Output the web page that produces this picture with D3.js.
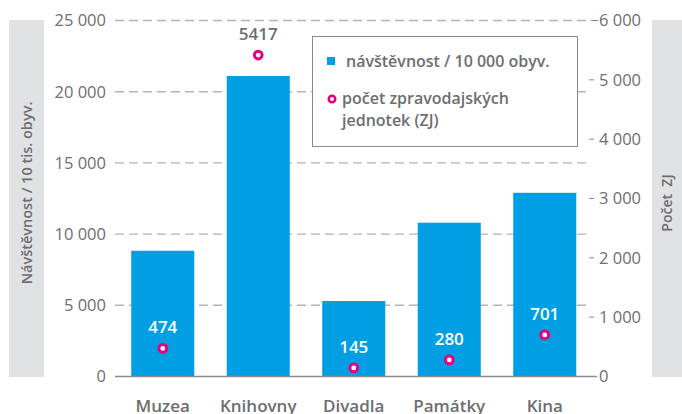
<!DOCTYPE html>
<html lang="cs">
<head>
<meta charset="utf-8">
<title>Návštěvnost a počet ZJ</title>
<script src="https://cdn.jsdelivr.net/npm/d3@7"></script>
<style>
  body { margin: 0; background: #fff; }
  text { font-family: "Open Sans", "Noto Sans", sans-serif; }
</style>
</head>
<body>
<script>
// data
var categories = ["Muzea", "Knihovny", "Divadla", "Památky", "Kina"];
var visits = [8830, 21100, 5300, 10800, 12900];   // návštěvnost / 10 000 obyv.
var units = [474, 5417, 145, 280, 701];            // počet ZJ
var leftTicks = [0, 5000, 10000, 15000, 20000, 25000];
var rightTicks = [0, 1000, 2000, 3000, 4000, 5000, 6000];

var W = 682, H = 414;
var textGray = "#6d6e70";
var barBlue = "#009fe3";
var pink = "#e6007e";

var svg = d3.select("body").append("svg").attr("width", W).attr("height", H);

var top0 = 20.5, base = 376.5;
var x = d3.scaleBand().domain(categories).range([115, 592.5]).paddingInner(0.34).paddingOuter(0.17);
var yL = d3.scaleLinear().domain([0, 25000]).range([base, top0]);
var yR = d3.scaleLinear().domain([0, 6000]).range([base, top0]);

var fmt = d3.formatLocale({decimal: ",", thousands: " ", grouping: [3], currency: ["", " Kč"]}).format(",d");

// gray title panels
svg.append("rect").attr("x", 9).attr("y", 20).attr("width", 35).attr("height", 357).attr("fill", "#e1e2e4");
svg.append("rect").attr("x", 652).attr("y", 20).attr("width", 30).attr("height", 357).attr("fill", "#e1e2e4");

svg.append("text")
  .attr("transform", "translate(32,193) rotate(-90)")
  .attr("text-anchor", "middle")
  .attr("fill", textGray).attr("font-size", 14.5).attr("font-weight", 600)
  .text("Návštěvnost / 10 tis. obyv.");

svg.append("text")
  .attr("transform", "translate(672,203) rotate(-90)")
  .attr("text-anchor", "middle")
  .attr("fill", textGray).attr("font-size", 14).attr("font-weight", 600)
  .attr("xml:space", "preserve")
  .text("Počet  ZJ");

// left grid + labels
svg.append("g").selectAll("line").data(leftTicks.filter(function(d) { return d > 0; }))
  .join("line")
  .attr("x1", 115).attr("x2", 591)
  .attr("y1", function(d) { return yL(d); }).attr("y2", function(d) { return yL(d); })
  .attr("stroke", "#b4b4b4").attr("stroke-width", 1.4).attr("stroke-dasharray", "9,5");

svg.append("g").selectAll("text").data(leftTicks)
  .join("text")
  .attr("x", 106).attr("y", function(d) { return yL(d); }).attr("dy", "0.36em")
  .attr("text-anchor", "end")
  .attr("fill", textGray).attr("font-size", 16.5)
  .text(function(d) { return fmt(d); });

// bars
svg.append("g").selectAll("rect").data(visits)
  .join("rect")
  .attr("x", function(d, i) { return x(categories[i]); })
  .attr("width", x.bandwidth())
  .attr("y", function(d) { return yL(d); })
  .attr("height", function(d) { return base - yL(d); })
  .attr("fill", barBlue);

// baseline
svg.append("line").attr("x1", 115).attr("x2", 597).attr("y1", base).attr("y2", base)
  .attr("stroke", "#8a8a8a").attr("stroke-width", 1.4);

// right axis
svg.append("g").selectAll("line").data(rightTicks.filter(function(d) { return d > 0 && d < 6000; }))
  .join("line")
  .attr("x1", 589).attr("x2", 594)
  .attr("y1", function(d) { return yR(d); }).attr("y2", function(d) { return yR(d); })
  .attr("stroke", "#8a8a8a").attr("stroke-width", 1);
svg.append("line").attr("x1", 591).attr("x2", 598).attr("y1", top0).attr("y2", top0)
  .attr("stroke", "#8a8a8a").attr("stroke-width", 1.2);

svg.append("g").selectAll("text").data(rightTicks)
  .join("text")
  .attr("x", 599).attr("y", function(d) { return yR(d); }).attr("dy", "0.36em")
  .attr("fill", textGray).attr("font-size", 16.5)
  .text(function(d) { return fmt(d); });

// points
svg.append("g").selectAll("circle").data(units)
  .join("circle")
  .attr("cx", function(d, i) { return x(categories[i]) + x.bandwidth() / 2; })
  .attr("cy", function(d) { return yR(d); })
  .attr("r", 3.9)
  .attr("fill", "#fff").attr("stroke", pink).attr("stroke-width", 2.9);

svg.append("g").selectAll("text").data(units)
  .join("text")
  .attr("x", function(d, i) { return x(categories[i]) + x.bandwidth() / 2; })
  .attr("y", function(d) { return yR(d) - 15; })
  .attr("text-anchor", "middle")
  .attr("font-size", 17).attr("font-weight", 600)
  .attr("fill", function(d, i) { return yR(d) - 25 > yL(visits[i]) ? "#fff" : textGray; })
  .text(function(d) { return d; });

// category labels
svg.append("g").selectAll("text").data(categories)
  .join("text")
  .attr("x", function(d) { return x(d) + x.bandwidth() / 2; })
  .attr("y", 412)
  .attr("text-anchor", "middle")
  .attr("fill", textGray).attr("font-size", 17).attr("font-weight", 600)
  .text(function(d) { return d; });

// legend
var lg = svg.append("g");
lg.append("rect").attr("x", 312.5).attr("y", 36.5).attr("width", 265).attr("height", 110)
  .attr("fill", "#fff").attr("stroke", "#8a8a8a").attr("stroke-width", 1);
lg.append("rect").attr("x", 327).attr("y", 57).attr("width", 8).attr("height", 8).attr("fill", barBlue);
lg.append("text").attr("x", 346).attr("y", 67).attr("fill", textGray)
  .attr("font-size", 16).attr("font-weight", 600).text("návštěvnost / 10 000 obyv.");
lg.append("circle").attr("cx", 332).attr("cy", 99).attr("r", 3.2).attr("fill", "#fff")
  .attr("stroke", pink).attr("stroke-width", 2.6);
lg.append("text").attr("x", 342).attr("y", 104).attr("fill", textGray)
  .attr("font-size", 16).attr("font-weight", 600).text("počet zpravodajských");
lg.append("text").attr("x", 342).attr("y", 126).attr("fill", textGray)
  .attr("font-size", 16).attr("font-weight", 600).text("jednotek (ZJ)");
</script>
</body>
</html>
